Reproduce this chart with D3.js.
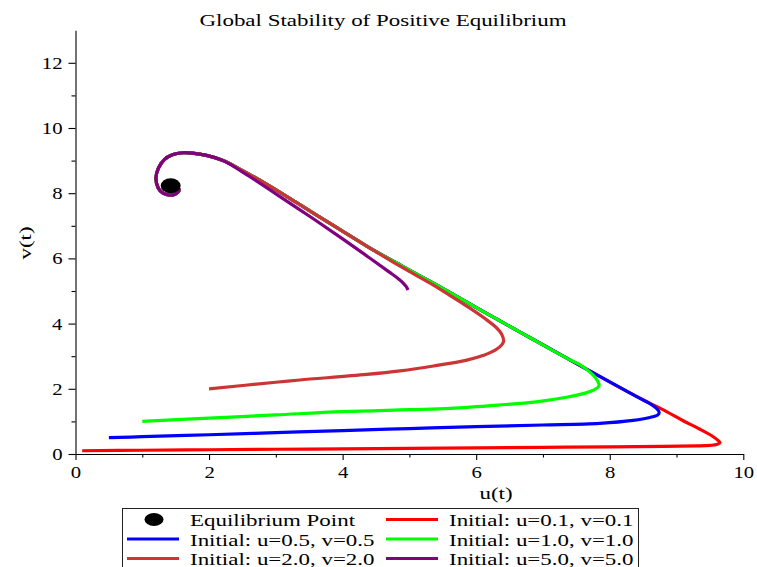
<!DOCTYPE html>
<html>
<head>
<meta charset="utf-8">
<script src="https://cdn.jsdelivr.net/npm/d3@7"></script>
<style>
	body { margin: 0; background: #fff; }
	svg text { font-family: "Liberation Serif", "Times New Roman", serif; fill: #000; }
	.xaxis .tick text { transform-box: fill-box; transform-origin: center; transform: scaleX(1.22); }
	.yaxis .tick text { transform-box: fill-box; transform-origin: right center; transform: scaleX(1.22); }
</style>
</head>
<body>
<svg id="chart" width="757" height="567"></svg>
<script>
// shared path along which every trajectory reaches the equilibrium (u, v)
var sharedPath = [[9.55,0.53],[9.35,0.76],[9.10,1.02],[8.85,1.30],[8.60,1.56],[8.35,1.82],
	[7.85,2.38],[7.35,2.95],[6.85,3.52],[6.35,4.09],[5.86,4.66],[5.36,5.24],[4.86,5.80],
	[4.36,6.38],[3.86,7.01],[3.36,7.65],[2.86,8.28],[2.46,8.74],[2.21,9.00],[1.96,9.16],
	[1.75,9.23],[1.61,9.24],[1.45,9.18],[1.33,9.03],[1.24,8.76],[1.205,8.46],[1.24,8.15],
	[1.31,8.00],[1.415,7.94],[1.50,7.98],[1.55,8.10],[1.50,8.22],[1.43,8.23]];

// start of each trajectory until it joins the shared path
var redStart = [[0.1,0.1],[1,0.115],[2,0.13],[3,0.145],[4,0.16],[5,0.175],[6,0.19],[7,0.205],
	[8,0.22],[8.8,0.235],[9.3,0.25],[9.5,0.265],[9.6,0.29],[9.65,0.35],[9.62,0.42]];
var blueStart = [[0.5,0.5],[1,0.53],[2,0.59],[3,0.655],[4,0.72],[5,0.78],[6,0.84],[7,0.89],
	[7.85,0.94],[8.35,1.03],[8.6,1.12],[8.72,1.2],[8.74,1.28],[8.7,1.40],[8.62,1.52]];
var greenStart = [[1,1],[2,1.1],[3,1.2],[4,1.3],[5,1.36],[5.61,1.40],[6.33,1.5],[6.9,1.6],
	[7.35,1.74],[7.62,1.86],[7.78,1.98],[7.84,2.1],[7.8,2.3],[7.7,2.52],[7.55,2.74]];
var brownStart = [[2,2],[3,2.2],[3.36,2.27],[4.36,2.44],[4.86,2.55],[5.36,2.70],[5.86,2.88],
	[6.1,3.02],[6.31,3.22],[6.41,3.45],[6.38,3.68],[6.3,3.88],[6.12,4.17],[5.9,4.48],
	[5.61,4.86],[5.36,5.18],[4.86,5.76]];
var purpleStart = [[4.98,5.03],[4.95,5.14],[4.90,5.26],[4.82,5.40],[4.70,5.58],[4.4,6.02],
	[4.0,6.60],[3.5,7.30],[3.0,7.98],[2.6,8.52]];

// index of sharedPath where each trajectory joins it
var joinIndex = [0, 5, 7, 13, 18];
var seriesNames = ["Initial: u=0.1, v=0.1", "Initial: u=0.5, v=0.5", "Initial: u=1.0, v=1.0",
	"Initial: u=2.0, v=2.0", "Initial: u=5.0, v=5.0"];
var seriesColors = ["#ff0000", "#0000ff", "#00ff00", "#cb3535", "#800080"];
var equilibrium = [1.425, 8.23];

var xMajor = [0, 2, 4, 6, 8, 10];
var xMinor = [1, 3, 5, 7, 9];
var yMajor = [0, 2, 4, 6, 8, 10, 12];
var yMinor = [1, 3, 5, 7, 9, 11];

drawChart();

function drawChart() {
	var svg = d3.select("svg");
	var starts = [redStart, blueStart, greenStart, brownStart, purpleStart];

	var x = d3.scaleLinear().domain([0, 10]).range([75.5, 743.3]);
	var y = d3.scaleLinear().domain([0, 13]).range([454, 30.2]);

	// trajectories
	var line = d3.line()
		.x(function(d) {return x(d[0])})
		.y(function(d) {return y(d[1])})
		.curve(d3.curveCatmullRom);

	starts.forEach(function(s, i) {
		svg.append("path")
			.attr("d", line(s.concat(sharedPath.slice(joinIndex[i]))))
			.attr("fill", "none")
			.attr("stroke", seriesColors[i])
			.attr("stroke-width", 3.2)
			.attr("stroke-linejoin", "round")
			.attr("stroke-linecap", "butt");
	});

	// equilibrium point
	svg.append("ellipse")
		.attr("cx", x(equilibrium[0]))
		.attr("cy", y(equilibrium[1]))
		.attr("rx", 10)
		.attr("ry", 7.5)
		.attr("fill", "#000");

	// x axis
	svg.append("g")
		.attr("class", "xaxis")
		.attr("transform", "translate(0,454)")
		.call(d3.axisBottom(x).tickValues(xMajor).tickSize(6).tickSizeOuter(0).tickPadding(6)
			.tickFormat(d3.format("d")))
		.style("font-size", "17px");
	svg.append("g")
		.attr("transform", "translate(0,454)")
		.call(d3.axisBottom(x).tickValues(xMinor).tickSize(3.5).tickFormat(""))
		.select(".domain").remove();

	// y axis
	svg.append("g")
		.attr("class", "yaxis")
		.attr("transform", "translate(75.5,0)")
		.call(d3.axisLeft(y).tickValues(yMajor).tickSize(7).tickSizeOuter(0).tickPadding(6)
			.tickFormat(d3.format("d")))
		.style("font-size", "17px");
	svg.append("g")
		.attr("transform", "translate(75.5,0)")
		.call(d3.axisLeft(y).tickValues(yMinor).tickSize(4).tickFormat(""))
		.select(".domain").remove();

	svg.selectAll(".domain, .tick line").attr("stroke", "#000").attr("stroke-width", 1.1);
	svg.selectAll(".tick text").attr("font-family", null);

	// title and axis labels
	addText(svg, "Global Stability of Positive Equilibrium", 383, 26, 0, "middle");
	addText(svg, "u(t)", 496, 499, 0, "middle");
	addText(svg, "v(t)", 31, 243, -90, "middle");

	drawLegend(svg);
}

function addText(svg, str, tx, ty, angle, anchor) {
	return svg.append("text")
		.attr("transform", "translate(" + tx + "," + ty + ") rotate(" + angle + ") scale(1.35,1)")
		.attr("text-anchor", anchor)
		.style("font-size", "17px")
		.text(str);
}

function drawLegend(svg) {
	var g = svg.append("g");
	g.append("rect")
		.attr("x", 122.5).attr("y", 508.5)
		.attr("width", 516).attr("height", 70)
		.attr("fill", "#fff")
		.attr("stroke", "#222")
		.attr("stroke-width", 1);

	// first entry is the equilibrium marker, then the five trajectories
	var labels = ["Equilibrium Point"].concat(seriesNames);
	var cols = [127, 386];
	var rows = [519.5, 539, 558.5];

	labels.forEach(function(label, i) {
		var cx = cols[i % 2];
		var cy = rows[Math.floor(i / 2)];
		if (i == 0) {
			g.append("ellipse")
				.attr("cx", cx + 27).attr("cy", cy)
				.attr("rx", 9.5).attr("ry", 6.4)
				.attr("fill", "#000");
		}
		else {
			g.append("line")
				.attr("x1", cx).attr("x2", cx + 52)
				.attr("y1", cy).attr("y2", cy)
				.attr("stroke", seriesColors[i - 1])
				.attr("stroke-width", 3.2);
		}
		addText(g, label, cx + 63, cy + 6.5, 0, "start");
	});
}
</script>
</body>
</html>
